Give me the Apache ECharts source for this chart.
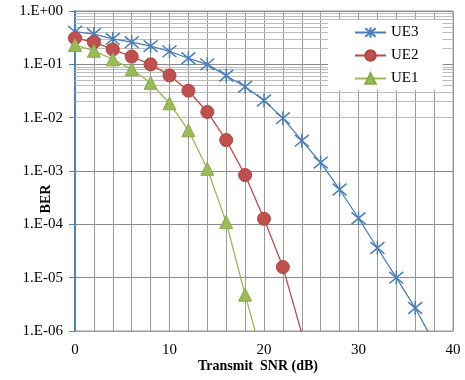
<!DOCTYPE html>
<html>
<head>
<meta charset="utf-8">
<script src="https://cdn.jsdelivr.net/npm/echarts@6/dist/echarts.min.js"></script>
<style>
  html, body { margin: 0; padding: 0; background: #fff; }
  #chart { width: 465px; height: 380px; }
</style>
</head>
<body>
<div id="chart"></div>
<script>
// transmit SNR (dB)
const snrUE3 = [0, 2, 4, 6, 8, 10, 12, 14, 16, 18, 20, 22, 24, 26, 28, 30, 32, 34, 36, 38];
const berUE3 = [0.41, 0.37, 0.30, 0.26, 0.22, 0.175, 0.13, 0.10, 0.061, 0.038, 0.021, 0.0098, 0.0037, 0.00144, 0.00045, 0.00013, 0.000036, 0.00001, 0.0000027, 0.0000006];

const snrUE2 = [0, 2, 4, 6, 8, 10, 12, 14, 16, 18, 20, 22, 24];
const berUE2 = [0.31, 0.26, 0.19, 0.14, 0.10, 0.062, 0.032, 0.0128, 0.0038, 0.00084, 0.000127, 0.0000158, 0.0000009];

const snrUE1 = [0, 2, 4, 6, 8, 10, 12, 14, 16, 18, 20];
const berUE1 = [0.23, 0.18, 0.124, 0.081, 0.045, 0.0186, 0.0058, 0.0011, 0.00011, 0.0000048, 0.00000025];

const xTickLabels = [0, 10, 20, 30, 40];

// minor log grid values 2..9 x 10^n
const minorGrid = [];
for (let e = -6; e < 0; e++) {
  for (let m = 2; m <= 9; m++) minorGrid.push(m * Math.pow(10, e));
}

const blue = '#4a7ebb', red = '#be4b48', green = '#98b954';
const serif = '"Liberation Serif", "DejaVu Serif", serif';
const starPath = 'path://M0,0L10,10M10,0L0,10M5,-1L5,11';

const pairs = (xs, ys) => xs.map((x, i) => [x, ys[i]]);

const chart = echarts.init(document.getElementById('chart'));
chart.setOption({
  animation: false,
  backgroundColor: '#fff',
  grid: {
    left: 75, right: 12, top: 11, bottom: 49,
    outerBoundsMode: 'none',
    containLabel: false,
    show: true, borderColor: '#9a9a9a', borderWidth: 1
  },
  legend: {
    data: ['UE3', 'UE2', 'UE1'],
    orient: 'vertical',
    left: 328,
    top: 20,
    backgroundColor: '#fff',
    padding: [5, 24, 4, 26],
    itemWidth: 31,
    itemHeight: 13,
    itemGap: 8,
    textStyle: { fontFamily: serif, fontSize: 15, color: '#000' }
  },
  xAxis: {
    type: 'value',
    min: 0,
    max: 40,
    interval: 2,
    name: 'Transmit  SNR (dB)',
    nameLocation: 'middle',
    nameGap: 28,
    nameMoveOverlap: false,
    nameTextStyle: { fontFamily: serif, fontSize: 14, fontWeight: 'bold', color: '#000', padding: [0, 12, 0, 0] },
    axisLine: { show: true, lineStyle: { color: '#9a9a9a' } },
    axisTick: { show: false },
    axisLabel: {
      fontFamily: serif, fontSize: 15, color: '#000', margin: 12,
      formatter: v => xTickLabels.includes(v) ? String(v) : ''
    },
    splitLine: { show: true, lineStyle: { color: '#9a9a9a', width: 1 } }
  },
  yAxis: {
    type: 'log',
    logBase: 10,
    min: 1e-6,
    max: 1,
    splitNumber: 6,
    name: 'BER',
    nameLocation: 'middle',
    nameGap: 22,
    nameRotate: 90,
    nameMoveOverlap: false,
    nameTextStyle: { fontFamily: serif, fontSize: 14, fontWeight: 'bold', color: '#000', padding: [0, 56, 0, 0] },
    axisLine: { show: true, lineStyle: { color: '#4f81bd', width: 2 } },
    axisTick: { show: true, length: 6, inside: false, lineStyle: { color: '#4f81bd', width: 1 } },
    axisLabel: {
      fontFamily: serif, fontSize: 15, color: '#000', margin: 12,
      formatter: v => {
        const e = Math.round(Math.log10(v));
        return '1.E' + (e < 0 ? '-' : '+') + String(Math.abs(e)).padStart(2, '0');
      }
    },
    splitLine: { show: true, lineStyle: { color: '#8a8a8a', width: 1 } }
  },
  series: [
    {
      name: 'minor',
      type: 'line',
      data: [],
      z: 1,
      silent: true,
      markLine: {
        silent: true,
        symbol: 'none',
        z: 1,
        label: { show: false },
        emphasis: { disabled: true },
        lineStyle: { color: '#bdbdbd', width: 1, type: 'solid' },
        data: minorGrid.map(v => ({ yAxis: v }))
      }
    },
    {
      name: 'UE3',
      type: 'line',
      z: 3,
      data: pairs(snrUE3, berUE3),
      symbol: starPath,
      symbolSize: 14,
      clip: true,
      lineStyle: { color: blue, width: 1.3 },
      itemStyle: { color: 'rgba(0,0,0,0)', borderColor: blue, borderWidth: 1.5 }
    },
    {
      name: 'UE2',
      type: 'line',
      z: 3,
      data: pairs(snrUE2, berUE2),
      symbol: 'circle',
      symbolSize: 13,
      clip: true,
      lineStyle: { color: red, width: 1.3 },
      itemStyle: { color: '#c0504d', borderColor: '#b04540', borderWidth: 1 }
    },
    {
      name: 'UE1',
      type: 'line',
      z: 3,
      data: pairs(snrUE1, berUE1),
      symbol: 'triangle',
      symbolSize: 13,
      clip: true,
      lineStyle: { color: green, width: 1.3 },
      itemStyle: { color: '#9bbb59', borderColor: '#8aaa48', borderWidth: 1 }
    }
  ]
});
</script>
</body>
</html>
